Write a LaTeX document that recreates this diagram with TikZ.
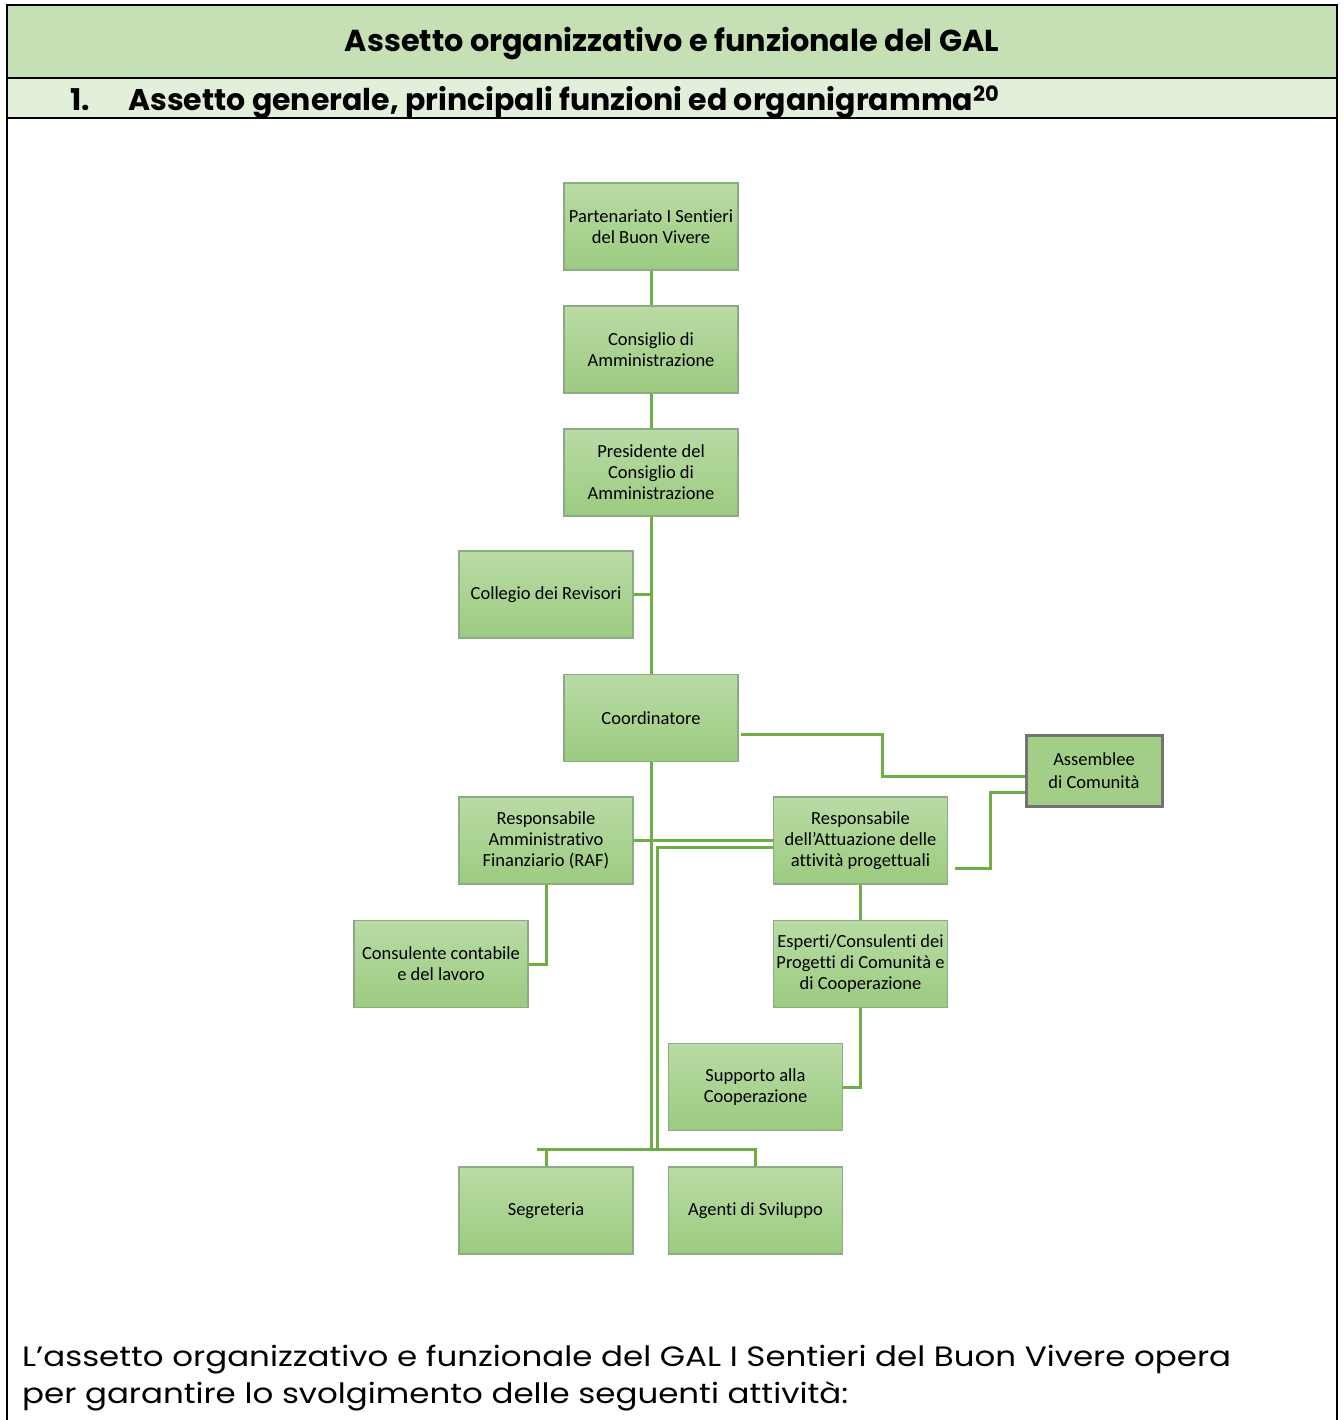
\documentclass[tikz,border=0pt]{standalone}
\usepackage{fontspec}
\setmainfont{Carlito}[Ligatures=NoCommon]
\newfontfamily\gothic{Poppins}
\newfontfamily\gothicw{Poppins}[FakeStretch=1.16]
\usetikzlibrary{calc}
\definecolor{bandA}{HTML}{C5E0B4}
\definecolor{bandB}{HTML}{E2EFDA}
\definecolor{lineg}{HTML}{70AD47}
\definecolor{boxtop}{HTML}{B9DBA5}
\definecolor{boxbot}{HTML}{9CCB80}
\definecolor{boxedge}{HTML}{8BAA85}
\begin{document}
\begin{tikzpicture}[x=1pt,y=-1pt,
  orgbox/.style={draw=boxedge, line width=1.5pt, top color=boxtop, bottom color=boxbot,
    minimum width=174pt, minimum height=87pt, inner sep=0pt, align=center,
    font=\fontsize{18.5}{21}\selectfont},
  assbox/.style={draw=gray!90!black, line width=3pt, fill=boxbot!80!boxtop,
    minimum width=136pt, minimum height=71pt, inner sep=0pt, align=center,
    font=\fontsize{18.5}{23}\selectfont},
  conn/.style={draw=lineg, line width=3pt},
  rule/.style={draw=black, line width=2pt}]
\useasboundingbox (0,0) rectangle (1343,1420);
\fill[white] (0,0) rectangle (1343,1420);
% header bands
\fill[bandA] (7,5) rectangle (1337,78);
\fill[bandB] (7,78) rectangle (1337,118);
\draw[rule] (6,5) -- (1338,5);
\draw[rule] (6,78) -- (1338,78);
\draw[rule] (6,118) -- (1338,118);
\draw[rule] (7,4) -- (7,1420);
\draw[rule] (1337,4) -- (1337,1420);
\node[font=\gothic\bfseries\fontsize{30.3}{32}\selectfont] (title) at (672,44) {Assetto organizzativo e funzionale del GAL};
\node[anchor=base west, font=\gothic\bfseries\fontsize{30}{32}\selectfont, inner sep=0pt] (hnum) at (70,111) {1.};
\node[anchor=base west, font=\gothic\bfseries\fontsize{30}{32}\selectfont, inner sep=0pt] (head) at (128,111) {Assetto generale, principali funzioni ed organigramma\textsuperscript{20}};
% boxes
\node[orgbox] (part) at (651,226.5) {Partenariato I Sentieri\\del Buon Vivere};
\node[orgbox] (cda) at (651,349.5) {Consiglio di\\Amministrazione};
\node[orgbox] (pres) at (651,472.5) {Presidente del\\Consiglio di\\Amministrazione};
\node[orgbox] (coll) at (546,594.5) {Collegio dei Revisori};
\node[orgbox] (coord) at (651,718) {Coordinatore};
\node[assbox] (ass) at (1094,770.5) {Assemblee\\di Comunità};
\node[orgbox] (raf) at (546,840.5) {Responsabile\\Amministrativo\\Finanziario (RAF)};
\node[orgbox] (resp) at (860.5,840.5) {Responsabile\\dell\symbol{39}Attuazione delle\\attività progettuali};
\node[orgbox] (cons) at (441,964) {Consulente contabile\\e del lavoro};
\node[orgbox] (esp) at (860.5,964) {Esperti/Consulenti dei\\Progetti di Comunità e\\di Cooperazione};
\node[orgbox] (sup) at (755.5,1087) {Supporto alla\\Cooperazione};
\node[orgbox] (seg) at (546,1210.5) {Segreteria};
\node[orgbox] (ag) at (755.5,1210.5) {Agenti di Sviluppo};
% connectors
\draw[conn] (part.south) -- (cda.north);
\draw[conn] (cda.south) -- (pres.north);
\draw[conn] (pres.south) -- (coord.north);
\draw[conn] (coll.east) -- (coll.east -| pres.south);
\coordinate (bus) at (537,1149);
\draw[conn] (coord.south) -- (coord.south |- bus);
\draw[conn] (raf.east) -- (resp.west);
\draw[conn] ($(resp.west)+(0,7)$) -| ($(bus)+(120,0)$);
\draw[conn] (bus) -| (ag.north);
\draw[conn] (bus -| seg.north) -- (seg.north);
\coordinate (k1) at (882,776);
\draw[conn] ($(coord.east)+(2,16)$) -| (k1) -- (k1 -| ass.west);
\coordinate (k2) at (990,792);
\draw[conn] ($(resp.east)+(7,28)$) -| (k2) -- (k2 -| ass.west);
\draw[conn] (raf.south) |- (cons.east);
\draw[conn] (resp.south) -- (esp.north);
\draw[conn] (esp.south) |- (sup.east);
% body text
\node[anchor=base west, inner sep=0pt, align=left, font=\gothicw\fontsize{28}{37}\selectfont] (body) at (22,1403) {L’assetto organizzativo e funzionale del GAL I Sentieri del Buon Vivere opera\\per garantire lo svolgimento delle seguenti attività:};
\end{tikzpicture}
\end{document}
